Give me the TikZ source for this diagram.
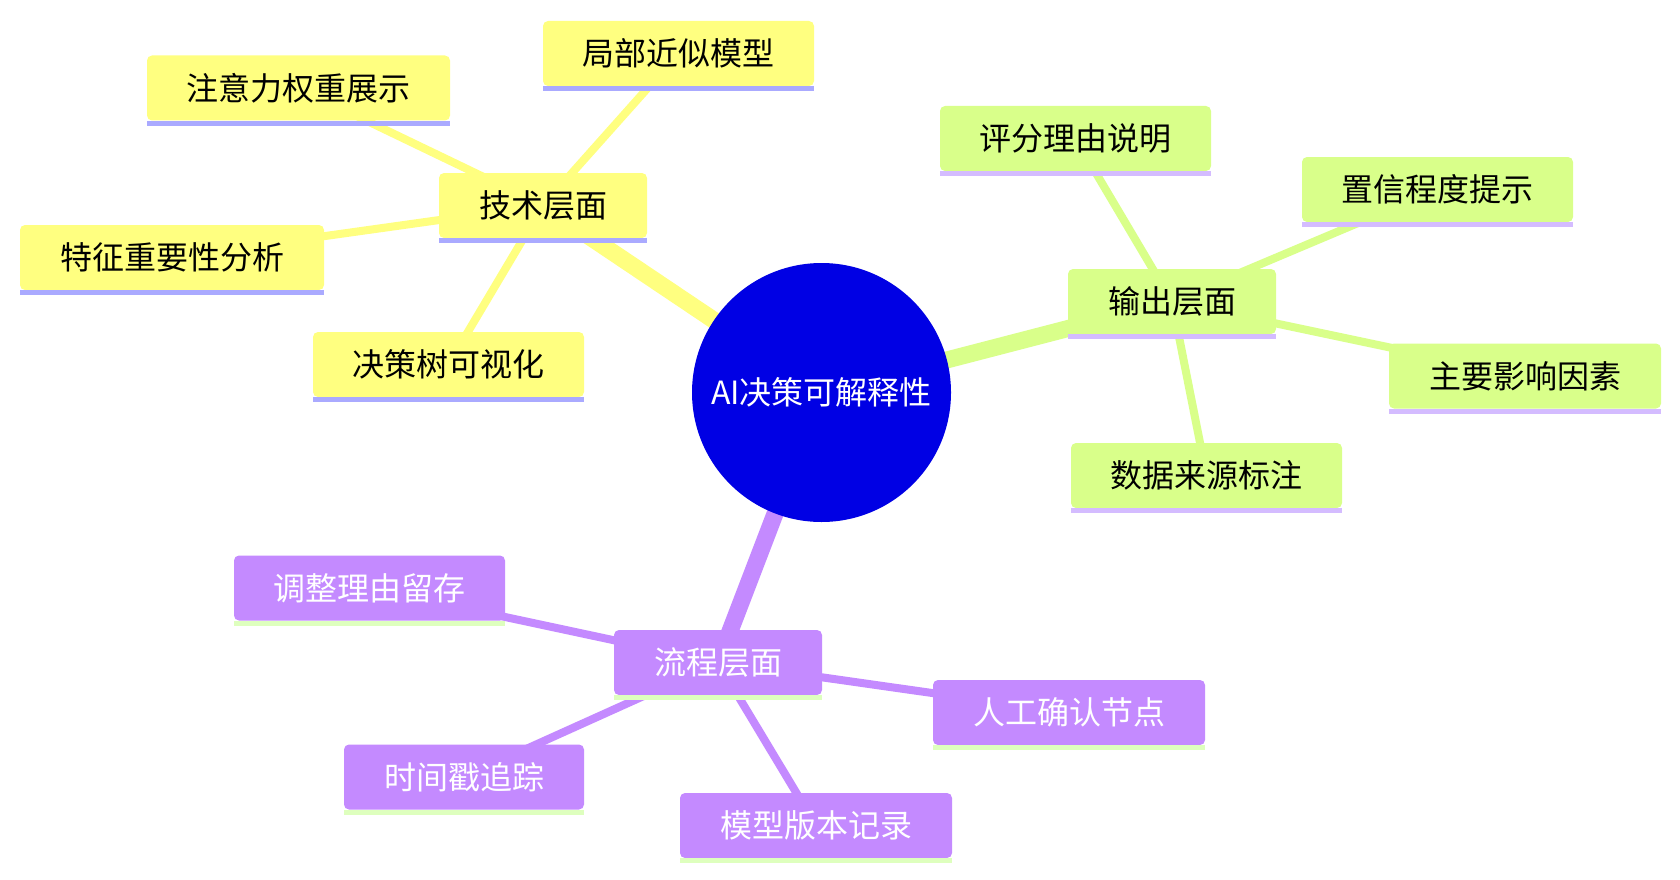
\documentclass[tikz,border=0pt]{standalone}
\usepackage{fontspec}
\newfontfamily\cjk{Noto Sans CJK SC}
\usetikzlibrary{backgrounds}
\definecolor{cRoot}{RGB}{0,0,228}
\definecolor{cY}{RGB}{255,255,128}
\definecolor{cG}{RGB}{217,255,138}
\definecolor{cP}{RGB}{196,138,255}
\definecolor{uY}{RGB}{170,170,255}
\definecolor{uG}{RGB}{212,188,255}
\definecolor{uP}{RGB}{222,255,190}
\begin{document}
\begin{tikzpicture}[x=1pt,y=-1pt,
  box/.style={rectangle, rounded corners=5pt, minimum height=65pt, inner sep=0pt, font=\cjk\fontsize{32}{38}\selectfont},
  ybox/.style={box, fill=cY, text=black},
  gbox/.style={box, fill=cG, text=black},
  pbox/.style={box, fill=cP, text=white},
  thick edge/.style={line width=17pt},
  thin edge/.style={line width=8pt}]
\useasboundingbox (0,0) rectangle (1680,880);

\node[circle, fill=cRoot, minimum size=259pt, inner sep=0pt, text=white, font=\cjk\fontsize{32}{38}\selectfont] (root) at (821.5,392.5) {AI决策可解释性};

% yellow section
\node[ybox, minimum width=208pt] (tech) at (543,205.5) {技术层面};
\node[ybox, minimum width=271pt] (local) at (678.5,53.5) {局部近似模型};
\node[ybox, minimum width=303pt] (attn) at (298.5,88) {注意力权重展示};
\node[ybox, minimum width=304pt] (feat) at (172,257.5) {特征重要性分析};
\node[ybox, minimum width=271pt] (tree) at (448.5,364.5) {决策树可视化};

% green section
\node[gbox, minimum width=208pt] (out) at (1172,301.5) {输出层面};
\node[gbox, minimum width=271pt] (score) at (1075.5,138.5) {评分理由说明};
\node[gbox, minimum width=271pt] (conf) at (1437.5,189.5) {置信程度提示};
\node[gbox, minimum width=272pt] (main) at (1525,376) {主要影响因素};
\node[gbox, minimum width=271pt] (data) at (1206.5,475.5) {数据来源标注};

% purple section
\node[pbox, minimum width=208pt] (proc) at (718,662.5) {流程层面};
\node[pbox, minimum width=271pt] (adj) at (369.5,588) {调整理由留存};
\node[pbox, minimum width=272pt] (human) at (1069,712.5) {人工确认节点};
\node[pbox, minimum width=240pt] (time) at (464,777) {时间戳追踪};
\node[pbox, minimum width=272pt] (model) at (816,825.5) {模型版本记录};

% underlines
\foreach \n in {tech,local,attn,feat,tree}
  \fill[uY] (\n.south west) rectangle ([yshift=-5pt]\n.south east);
\foreach \n in {out,score,conf,main,data}
  \fill[uG] (\n.south west) rectangle ([yshift=-5pt]\n.south east);
\foreach \n in {proc,adj,human,time,model}
  \fill[uP] (\n.south west) rectangle ([yshift=-5pt]\n.south east);

\begin{scope}[on background layer]
  \fill[white] (0,0) rectangle (1680,880);
  \draw[thick edge, cY] (root.center) -- (tech.center);
  \draw[thick edge, cG] (root.center) -- (out.center);
  \draw[thick edge, cP] (root.center) -- (proc.center);
  \foreach \n in {local,attn,feat,tree}
    \draw[thin edge, cY] (tech.center) -- (\n.center);
  \foreach \n in {score,conf,main,data}
    \draw[thin edge, cG] (out.center) -- (\n.center);
  \foreach \n in {adj,human,time,model}
    \draw[thin edge, cP] (proc.center) -- (\n.center);
\end{scope}
\end{tikzpicture}
\end{document}
